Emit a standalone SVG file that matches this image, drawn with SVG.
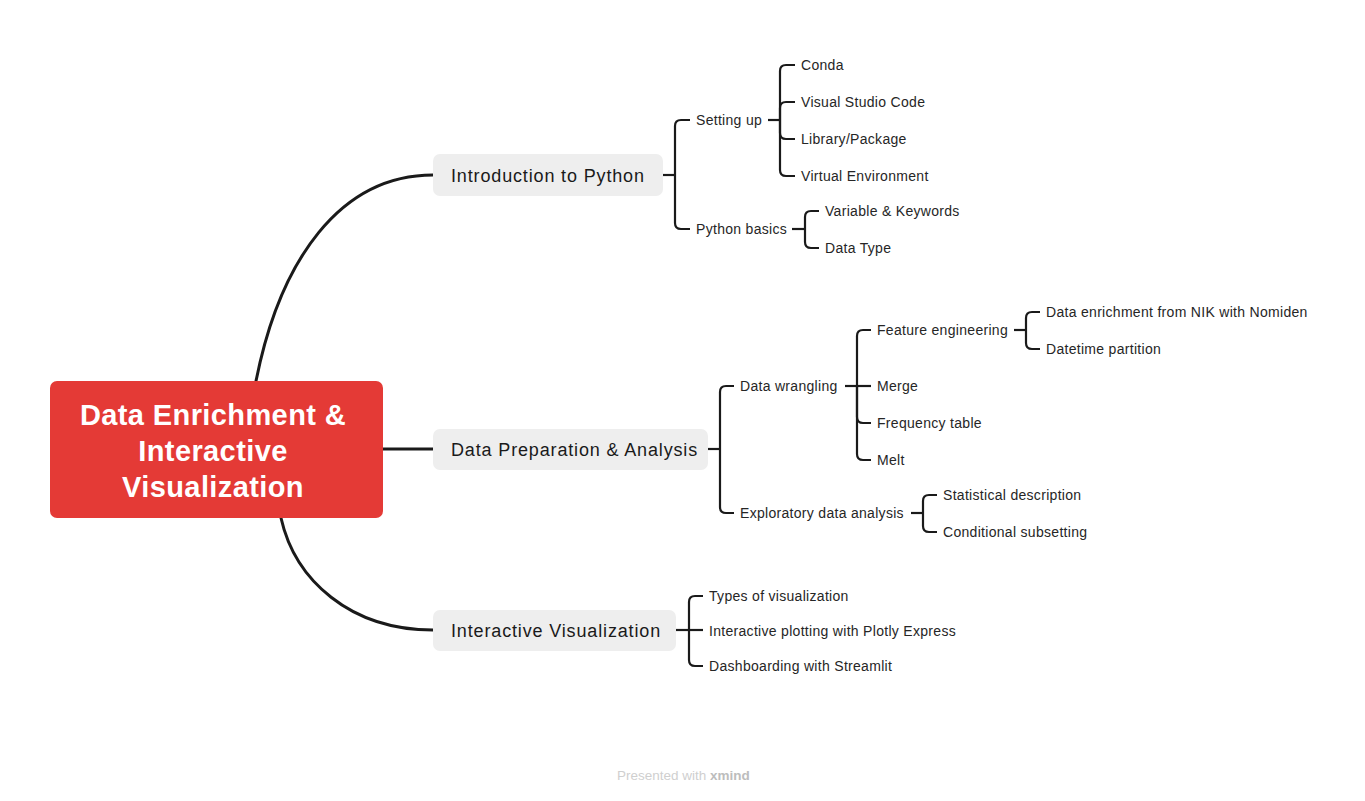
<svg xmlns="http://www.w3.org/2000/svg" width="1365" height="801" viewBox="0 0 1365 801">
<style>
.bg{fill:#ffffff}
.root{fill:#E43A36}
.rt{font-family:"Liberation Sans",Arial,sans-serif;font-size:29px;font-weight:bold;fill:#ffffff;text-anchor:middle;letter-spacing:0.4px}
.br{fill:#EEEEEE}
.bt{font-family:"Liberation Sans",Arial,sans-serif;font-size:18px;fill:#1a1a1a;letter-spacing:0.85px}
.st{font-family:"Liberation Sans",Arial,sans-serif;font-size:14px;fill:#262626;letter-spacing:0.3px}
.main{fill:none;stroke:#1a1a1a;stroke-width:3;stroke-linecap:round}
.c{fill:none;stroke:#1a1a1a;stroke-width:2.2}
.ft{font-family:"Liberation Sans",Arial,sans-serif;font-size:13.5px;fill:#cfcfcf}
</style>
<rect class="bg" x="0" y="0" width="1365" height="801"/>
<g id="connectors">
<path class="main" d="M256,381 C280,260 340,175 433,175"/>
<path class="main" d="M383,449 H433"/>
<path class="main" d="M281,518 C295,580 350,630 433,630"/>
<path class="c" d="M663,175 H675"/>
<path class="c" d="M675,175 V126 Q675,120 681,120 H690"/>
<path class="c" d="M675,175 V223 Q675,229 681,229 H690"/>
<path class="c" d="M768,120 H780"/>
<path class="c" d="M780,120 V71 Q780,65 786,65 H795"/>
<path class="c" d="M780,120 V108 Q780,102 786,102 H795"/>
<path class="c" d="M780,120 V133 Q780,139 786,139 H795"/>
<path class="c" d="M780,120 V170 Q780,176 786,176 H795"/>
<path class="c" d="M792,229 H805"/>
<path class="c" d="M805,229 V217 Q805,211 811,211 H819"/>
<path class="c" d="M805,229 V242 Q805,248 811,248 H819"/>
<path class="c" d="M708,449 H720"/>
<path class="c" d="M720,449 V392 Q720,386 726,386 H734"/>
<path class="c" d="M720,449 V507 Q720,513 726,513 H734"/>
<path class="c" d="M845,386 H871"/>
<path class="c" d="M857,386 V336 Q857,330 863,330 H871"/>
<path class="c" d="M857,386 V417 Q857,423 863,423 H871"/>
<path class="c" d="M857,386 V454 Q857,460 863,460 H871"/>
<path class="c" d="M1014,330 H1026"/>
<path class="c" d="M1026,330 V318 Q1026,312 1032,312 H1040"/>
<path class="c" d="M1026,330 V343 Q1026,349 1032,349 H1040"/>
<path class="c" d="M911,513 H923"/>
<path class="c" d="M923,513 V501 Q923,495 929,495 H937"/>
<path class="c" d="M923,513 V526 Q923,532 929,532 H937"/>
<path class="c" d="M676,630 H703"/>
<path class="c" d="M689,630 V602 Q689,596 695,596 H703"/>
<path class="c" d="M689,630 V660 Q689,666 695,666 H703"/>
</g>
<g id="root">
<rect class="root" x="50" y="381" width="333" height="137" rx="7"/>
<text class="rt" x="213" y="425">Data Enrichment &amp;</text>
<text class="rt" x="213" y="461">Interactive</text>
<text class="rt" x="213" y="497">Visualization</text>
</g>
<g id="intro">
<rect class="br" x="433" y="154" width="230" height="42" rx="7"/>
<text class="bt" x="451" y="181.5">Introduction to Python</text>
</g>
<g id="prep">
<rect class="br" x="433" y="429" width="275" height="41" rx="7"/>
<text class="bt" x="451" y="456">Data Preparation &amp; Analysis</text>
</g>
<g id="vis">
<rect class="br" x="433" y="610" width="243" height="41" rx="7"/>
<text class="bt" x="451" y="637">Interactive Visualization</text>
</g>
<g id="setting-up"><text class="st" x="696" y="125">Setting up</text></g>
<g id="conda"><text class="st" x="801" y="70">Conda</text></g>
<g id="vscode"><text class="st" x="801" y="107">Visual Studio Code</text></g>
<g id="library"><text class="st" x="801" y="144">Library/Package</text></g>
<g id="venv"><text class="st" x="801" y="181">Virtual Environment</text></g>
<g id="python-basics"><text class="st" x="696" y="234">Python basics</text></g>
<g id="variable"><text class="st" x="825" y="216">Variable &amp; Keywords</text></g>
<g id="datatype"><text class="st" x="825" y="253">Data Type</text></g>
<g id="wrangling"><text class="st" x="740" y="391">Data wrangling</text></g>
<g id="feature"><text class="st" x="877" y="335">Feature engineering</text></g>
<g id="nik"><text class="st" x="1046" y="317">Data enrichment from NIK with Nomiden</text></g>
<g id="datetime"><text class="st" x="1046" y="354">Datetime partition</text></g>
<g id="merge"><text class="st" x="877" y="391">Merge</text></g>
<g id="freq"><text class="st" x="877" y="428">Frequency table</text></g>
<g id="melt"><text class="st" x="877" y="465">Melt</text></g>
<g id="eda"><text class="st" x="740" y="518">Exploratory data analysis</text></g>
<g id="stat"><text class="st" x="943" y="500">Statistical description</text></g>
<g id="cond"><text class="st" x="943" y="537">Conditional subsetting</text></g>
<g id="types"><text class="st" x="709" y="601">Types of visualization</text></g>
<g id="plotly"><text class="st" x="709" y="636">Interactive plotting with Plotly Express</text></g>
<g id="dash"><text class="st" x="709" y="671">Dashboarding with Streamlit</text></g>
<text class="ft" x="617" y="780">Presented with <tspan font-weight="bold" fill="#bdbdbd">xmind</tspan></text>
</svg>
